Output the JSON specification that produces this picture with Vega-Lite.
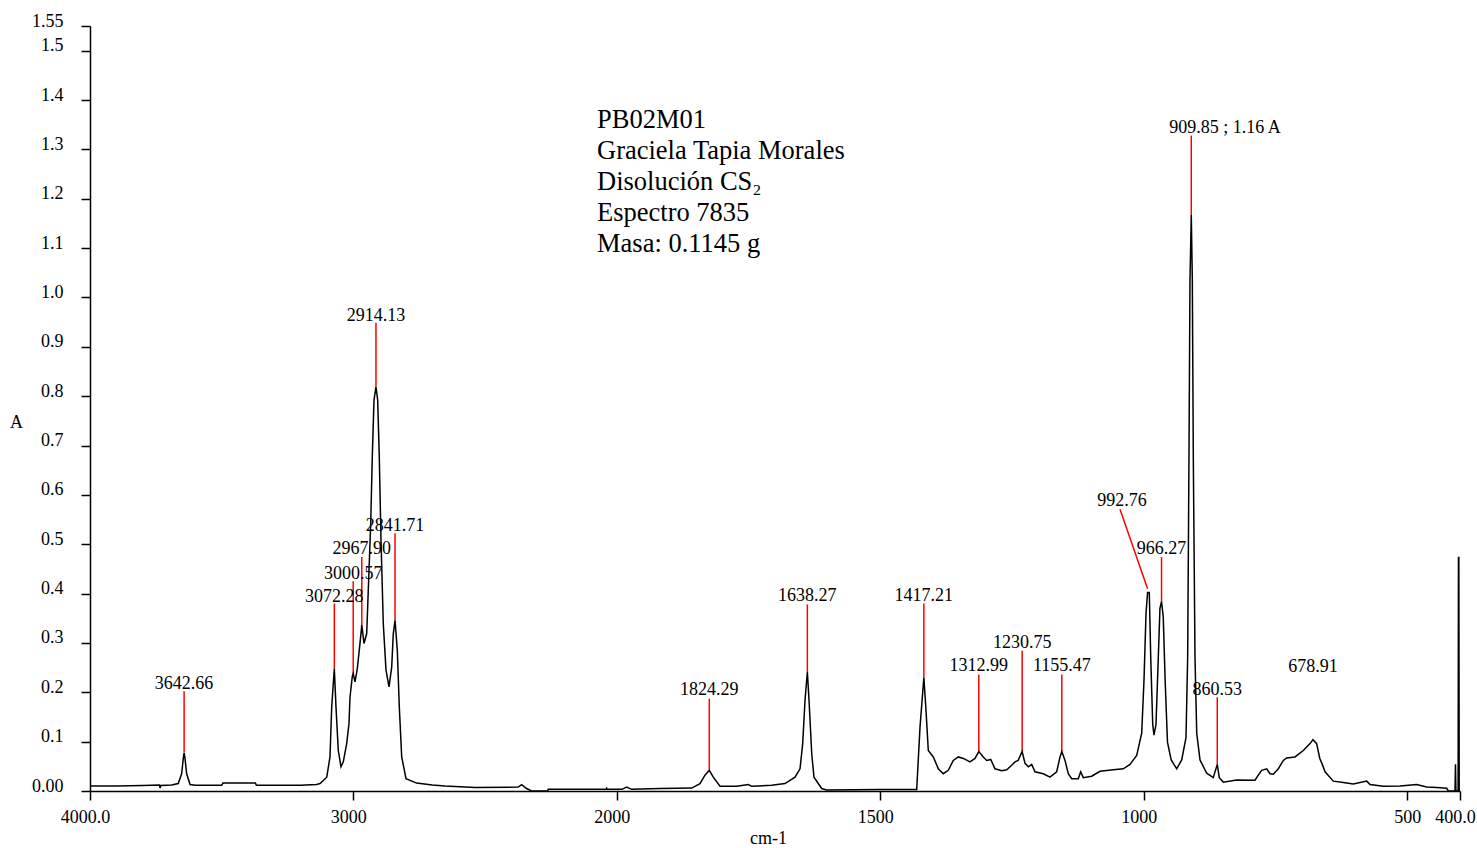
{
  "$schema": "https://vega.github.io/schema/vega-lite/v6.json",
  "width": 1370,
  "height": 765,
  "autosize": {"type": "none"},
  "padding": {"left": 90, "top": 26, "right": 17, "bottom": 57},
  "background": "white",
  "config": {
    "view": {"stroke": null},
    "text": {"font": "Liberation Serif", "color": "black"}
  },
  "datasets": {
    "spectrum": [
      {"wn": 4000, "a": 0.010}, {"wn": 3900, "a": 0.010}, {"wn": 3800, "a": 0.011}, {"wn": 3736, "a": 0.012},
      {"wn": 3734, "a": 0.006}, {"wn": 3731, "a": 0.011}, {"wn": 3690, "a": 0.012}, {"wn": 3665, "a": 0.015},
      {"wn": 3652, "a": 0.035}, {"wn": 3646, "a": 0.065}, {"wn": 3642.66, "a": 0.078}, {"wn": 3639, "a": 0.065},
      {"wn": 3633, "a": 0.035}, {"wn": 3620, "a": 0.013}, {"wn": 3600, "a": 0.0116}, {"wn": 3500, "a": 0.0116},
      {"wn": 3495, "a": 0.016}, {"wn": 3372, "a": 0.016}, {"wn": 3368, "a": 0.0116}, {"wn": 3200, "a": 0.0116},
      {"wn": 3140, "a": 0.013}, {"wn": 3126.6, "a": 0.015}, {"wn": 3101, "a": 0.028}, {"wn": 3088.7, "a": 0.069},
      {"wn": 3082.2, "a": 0.170}, {"wn": 3072.28, "a": 0.248}, {"wn": 3065.9, "a": 0.170}, {"wn": 3057.2, "a": 0.082},
      {"wn": 3046.9, "a": 0.049}, {"wn": 3038.2, "a": 0.059}, {"wn": 3025.3, "a": 0.096}, {"wn": 3016.5, "a": 0.137},
      {"wn": 3012.7, "a": 0.19}, {"wn": 3004, "a": 0.232}, {"wn": 3000.57, "a": 0.238}, {"wn": 2993.7, "a": 0.221},
      {"wn": 2985, "a": 0.248}, {"wn": 2974.8, "a": 0.299}, {"wn": 2967.9, "a": 0.336}, {"wn": 2959.6, "a": 0.299},
      {"wn": 2949.3, "a": 0.319}, {"wn": 2943.3, "a": 0.407}, {"wn": 2934.1, "a": 0.542}, {"wn": 2928.1, "a": 0.677},
      {"wn": 2921.6, "a": 0.792}, {"wn": 2914.13, "a": 0.819}, {"wn": 2907.6, "a": 0.792}, {"wn": 2901.5, "a": 0.677},
      {"wn": 2895, "a": 0.508}, {"wn": 2886.3, "a": 0.339}, {"wn": 2876, "a": 0.245}, {"wn": 2864.6, "a": 0.211},
      {"wn": 2854.4, "a": 0.251}, {"wn": 2848.3, "a": 0.319}, {"wn": 2841.71, "a": 0.346}, {"wn": 2833.1, "a": 0.285},
      {"wn": 2825.5, "a": 0.170}, {"wn": 2816.4, "a": 0.069}, {"wn": 2800, "a": 0.025}, {"wn": 2760, "a": 0.016},
      {"wn": 2700, "a": 0.012}, {"wn": 2652, "a": 0.010}, {"wn": 2538, "a": 0.007}, {"wn": 2374, "a": 0.008},
      {"wn": 2361, "a": 0.013}, {"wn": 2342, "a": 0.005}, {"wn": 2323, "a": 0.0}, {"wn": 2262, "a": 0.0},
      {"wn": 2260, "a": 0.0034}, {"wn": 2100, "a": 0.0034}, {"wn": 2040, "a": 0.0034}, {"wn": 2038, "a": 0.006},
      {"wn": 2035, "a": 0.0034}, {"wn": 1990, "a": 0.0034}, {"wn": 1981, "a": 0.008}, {"wn": 1972, "a": 0.0034},
      {"wn": 1917.8, "a": 0.005}, {"wn": 1857.7, "a": 0.006}, {"wn": 1842, "a": 0.015}, {"wn": 1832.5, "a": 0.032},
      {"wn": 1824.29, "a": 0.042}, {"wn": 1816.7, "a": 0.028}, {"wn": 1804, "a": 0.0095}, {"wn": 1772.3, "a": 0.0095},
      {"wn": 1750.3, "a": 0.013}, {"wn": 1743.9, "a": 0.0095}, {"wn": 1705.9, "a": 0.0116}, {"wn": 1680.7, "a": 0.015},
      {"wn": 1661.7, "a": 0.028}, {"wn": 1652.2, "a": 0.045}, {"wn": 1647.1, "a": 0.096}, {"wn": 1642.7, "a": 0.184},
      {"wn": 1638.27, "a": 0.241}, {"wn": 1635.1, "a": 0.184}, {"wn": 1630, "a": 0.076}, {"wn": 1625.7, "a": 0.028},
      {"wn": 1611.1, "a": 0.005}, {"wn": 1601.6, "a": 0.002}, {"wn": 1500, "a": 0.003}, {"wn": 1430.8, "a": 0.003},
      {"wn": 1424.5, "a": 0.130}, {"wn": 1417.21, "a": 0.230}, {"wn": 1413.2, "a": 0.164}, {"wn": 1408.8, "a": 0.082},
      {"wn": 1399.3, "a": 0.069}, {"wn": 1389.8, "a": 0.045}, {"wn": 1380.3, "a": 0.035}, {"wn": 1370.9, "a": 0.042},
      {"wn": 1361.4, "a": 0.062}, {"wn": 1351.9, "a": 0.069}, {"wn": 1342.4, "a": 0.066}, {"wn": 1329.7, "a": 0.059},
      {"wn": 1320.2, "a": 0.066}, {"wn": 1312.99, "a": 0.080}, {"wn": 1304.4, "a": 0.069}, {"wn": 1298, "a": 0.062},
      {"wn": 1290.4, "a": 0.064}, {"wn": 1282.2, "a": 0.045}, {"wn": 1269.5, "a": 0.041}, {"wn": 1260, "a": 0.043},
      {"wn": 1250.6, "a": 0.052}, {"wn": 1244.3, "a": 0.059}, {"wn": 1238.3, "a": 0.062}, {"wn": 1230.75, "a": 0.080},
      {"wn": 1225.3, "a": 0.056}, {"wn": 1219, "a": 0.049}, {"wn": 1212.6, "a": 0.054}, {"wn": 1206.4, "a": 0.039},
      {"wn": 1190.6, "a": 0.035}, {"wn": 1177.9, "a": 0.028}, {"wn": 1165.2, "a": 0.039}, {"wn": 1158.9, "a": 0.069},
      {"wn": 1155.47, "a": 0.080}, {"wn": 1149.4, "a": 0.062}, {"wn": 1143.2, "a": 0.035}, {"wn": 1136.7, "a": 0.025},
      {"wn": 1124.2, "a": 0.025}, {"wn": 1119.7, "a": 0.039}, {"wn": 1114.7, "a": 0.027}, {"wn": 1098.8, "a": 0.030},
      {"wn": 1083, "a": 0.040}, {"wn": 1057.8, "a": 0.043}, {"wn": 1038.8, "a": 0.045}, {"wn": 1026.1, "a": 0.054},
      {"wn": 1013.4, "a": 0.072}, {"wn": 1003.9, "a": 0.117}, {"wn": 999.5, "a": 0.226}, {"wn": 995.7, "a": 0.361},
      {"wn": 992.76, "a": 0.402}, {"wn": 989.5, "a": 0.402}, {"wn": 986.8, "a": 0.271}, {"wn": 983, "a": 0.135},
      {"wn": 980.6, "a": 0.113}, {"wn": 976.8, "a": 0.135}, {"wn": 972.4, "a": 0.271}, {"wn": 969.3, "a": 0.370},
      {"wn": 966.27, "a": 0.384}, {"wn": 963, "a": 0.352}, {"wn": 959.5, "a": 0.226}, {"wn": 955, "a": 0.099},
      {"wn": 948, "a": 0.063}, {"wn": 937.5, "a": 0.045}, {"wn": 928, "a": 0.063}, {"wn": 919.9, "a": 0.108},
      {"wn": 916.7, "a": 0.271}, {"wn": 914.2, "a": 0.677}, {"wn": 912.3, "a": 1.038}, {"wn": 909.85, "a": 1.167},
      {"wn": 907.9, "a": 1.038}, {"wn": 906, "a": 0.677}, {"wn": 902.8, "a": 0.271}, {"wn": 899.5, "a": 0.117},
      {"wn": 893.3, "a": 0.063}, {"wn": 880.6, "a": 0.036}, {"wn": 868.1, "a": 0.027}, {"wn": 860.53, "a": 0.054},
      {"wn": 856.7, "a": 0.027}, {"wn": 849.1, "a": 0.018}, {"wn": 823.7, "a": 0.0225}, {"wn": 788.9, "a": 0.022},
      {"wn": 782.7, "a": 0.032}, {"wn": 776.2, "a": 0.042}, {"wn": 766.7, "a": 0.045}, {"wn": 760.5, "a": 0.035},
      {"wn": 754.2, "a": 0.034}, {"wn": 744.7, "a": 0.045}, {"wn": 735.2, "a": 0.062}, {"wn": 728.8, "a": 0.067},
      {"wn": 713.1, "a": 0.069}, {"wn": 697.3, "a": 0.082}, {"wn": 684.6, "a": 0.096}, {"wn": 678.91, "a": 0.104},
      {"wn": 672, "a": 0.096}, {"wn": 666, "a": 0.066}, {"wn": 662, "a": 0.056}, {"wn": 656, "a": 0.039},
      {"wn": 652.8, "a": 0.035}, {"wn": 640.3, "a": 0.020}, {"wn": 621.3, "a": 0.017}, {"wn": 602.4, "a": 0.014},
      {"wn": 577, "a": 0.020}, {"wn": 570.7, "a": 0.013}, {"wn": 545.5, "a": 0.0095}, {"wn": 513.8, "a": 0.010},
      {"wn": 482.1, "a": 0.013}, {"wn": 463.2, "a": 0.008}, {"wn": 444.2, "a": 0.007}, {"wn": 425.2, "a": 0.0055},
      {"wn": 422.2, "a": 0.0}, {"wn": 409.5, "a": 0.0}, {"wn": 408.6, "a": 0.054}, {"wn": 407.7, "a": 0.0},
      {"wn": 403.6, "a": 0.0}, {"wn": 402.9, "a": 0.473}, {"wn": 402.2, "a": 0.473}, {"wn": 401.5, "a": 0.0},
      {"wn": 400, "a": 0.0}
    ],
    "peaks": [
      {"wn": 3642.66, "a": 0.079, "wn2": 3642.66, "a2": 0.202},
      {"wn": 3072.28, "a": 0.248, "wn2": 3072.28, "a2": 0.380},
      {"wn": 3000.57, "a": 0.238, "wn2": 3000.57, "a2": 0.425},
      {"wn": 2967.90, "a": 0.336, "wn2": 2967.90, "a2": 0.474},
      {"wn": 2914.13, "a": 0.819, "wn2": 2914.13, "a2": 0.9485},
      {"wn": 2841.71, "a": 0.346, "wn2": 2841.71, "a2": 0.522},
      {"wn": 1824.29, "a": 0.042, "wn2": 1824.29, "a2": 0.187},
      {"wn": 1638.27, "a": 0.241, "wn2": 1638.27, "a2": 0.378},
      {"wn": 1417.21, "a": 0.230, "wn2": 1417.21, "a2": 0.380},
      {"wn": 1312.99, "a": 0.080, "wn2": 1312.99, "a2": 0.236},
      {"wn": 1230.75, "a": 0.080, "wn2": 1230.75, "a2": 0.284},
      {"wn": 1155.47, "a": 0.080, "wn2": 1155.47, "a2": 0.236},
      {"wn": 992.76, "a": 0.410, "wn2": 1045.1, "a2": 0.571},
      {"wn": 966.27, "a": 0.384, "wn2": 966.27, "a2": 0.474},
      {"wn": 909.85, "a": 1.167, "wn2": 909.85, "a2": 1.328},
      {"wn": 860.53, "a": 0.054, "wn2": 860.53, "a2": 0.190}
    ],
    "labels": [
      {"label": "3642.66", "wn": 3642.66, "a": 0.2075},
      {"label": "3072.28", "wn": 3072.28, "a": 0.383},
      {"label": "3000.57", "wn": 3000.57, "a": 0.4305},
      {"label": "2967.90", "wn": 2967.90, "a": 0.481},
      {"label": "2914.13", "wn": 2914.13, "a": 0.9526},
      {"label": "2841.71", "wn": 2841.71, "a": 0.527},
      {"label": "1824.29", "wn": 1824.29, "a": 0.194},
      {"label": "1638.27", "wn": 1638.27, "a": 0.3845},
      {"label": "1417.21", "wn": 1417.21, "a": 0.385},
      {"label": "1312.99", "wn": 1312.99, "a": 0.2426},
      {"label": "1230.75", "wn": 1230.75, "a": 0.290},
      {"label": "1155.47", "wn": 1155.47, "a": 0.2426},
      {"label": "992.76", "wn": 1041.3, "a": 0.577},
      {"label": "966.27", "wn": 966.27, "a": 0.4806},
      {"label": "909.85 ; 1.16 A", "wn": 845.9, "a": 1.3335},
      {"label": "860.53", "wn": 860.53, "a": 0.194},
      {"label": "678.91", "wn": 678.91, "a": 0.241}
    ],
    "info": [
      {"line": "PB02M01", "wn": 2074.8, "a": 1.3425},
      {"line": "Graciela Tapia Morales", "wn": 2074.8, "a": 1.2797},
      {"line": "Disolución CS₂", "wn": 2074.8, "a": 1.2169},
      {"line": "Espectro 7835", "wn": 2074.8, "a": 1.1541},
      {"line": "Masa: 0.1145 g", "wn": 2074.8, "a": 1.0913}
    ]
  },
  "encoding": {
    "x": {
      "field": "wn",
      "type": "quantitative",
      "title": "cm-1",
      "scale": {"domain": [4000, 2000, 400], "range": [0, 526.7, 1370], "nice": false, "zero": false},
      "axis": {
        "values": [4000, 3000, 2000, 1500, 1000, 500, 400],
        "labelExpr": "datum.value == 4000 ? '4000.0' : (datum.value == 400 ? '400.0' : '' + datum.value)",
        "labelOffset": {"condition": {"test": "datum.value == 500", "value": 0}, "value": -5},
        "grid": false,
        "domainColor": "black",
        "domainWidth": 1.5,
        "tickColor": "black",
        "tickWidth": 1.5,
        "tickSize": 9,
        "labelFont": "Liberation Serif",
        "labelFontSize": 18,
        "labelColor": "black",
        "labelPadding": 22,
        "labelBaseline": "alphabetic",
        "labelOverlap": false,
        "labelBound": false,
        "labelFlush": false,
        "titleFont": "Liberation Serif",
        "titleFontSize": 18,
        "titleFontWeight": "normal",
        "titleColor": "black",
        "titleX": 678,
        "titleY": 52,
        "titleAlign": "center",
        "titleBaseline": "alphabetic"
      }
    },
    "y": {
      "field": "a",
      "type": "quantitative",
      "title": "A",
      "scale": {"domain": [0, 1.55], "nice": false, "zero": false},
      "axis": {
        "values": [0, 0.1, 0.2, 0.3, 0.4, 0.5, 0.6, 0.7, 0.8, 0.9, 1.0, 1.1, 1.2, 1.3, 1.4, 1.5, 1.55],
        "labelExpr": "datum.value == 0 ? '0.00' : (datum.value == 1.55 ? '1.55' : format(datum.value, '.1f'))",
        "grid": false,
        "domainColor": "black",
        "domainWidth": 1.5,
        "tickColor": "black",
        "tickWidth": 1.5,
        "tickSize": 9,
        "labelFont": "Liberation Serif",
        "labelFontSize": 18,
        "labelColor": "black",
        "labelPadding": 18,
        "labelBaseline": "alphabetic",
        "labelOverlap": false,
        "labelBound": false,
        "labelFlush": false,
        "titleFont": "Liberation Serif",
        "titleFontSize": 18,
        "titleFontWeight": "normal",
        "titleColor": "black",
        "titleAngle": 0,
        "titleX": -74,
        "titleY": 401,
        "titleAlign": "center",
        "titleBaseline": "alphabetic"
      }
    }
  },
  "layer": [
    {
      "data": {"name": "peaks"},
      "mark": {"type": "rule", "color": "#ff0000", "strokeWidth": 1.5},
      "encoding": {
        "x2": {"field": "wn2"},
        "y2": {"field": "a2"}
      }
    },
    {
      "data": {"name": "spectrum"},
      "mark": {"type": "line", "color": "black", "strokeWidth": 1.5, "interpolate": "linear"}
    },
    {
      "data": {"name": "labels"},
      "mark": {"type": "text", "font": "Liberation Serif", "fontSize": 18, "align": "center", "baseline": "alphabetic", "color": "black"},
      "encoding": {"text": {"field": "label"}}
    },
    {
      "data": {"name": "info"},
      "mark": {"type": "text", "font": "Liberation Serif", "fontSize": 26.5, "align": "left", "baseline": "alphabetic", "color": "black"},
      "encoding": {"text": {"field": "line"}}
    }
  ]
}
